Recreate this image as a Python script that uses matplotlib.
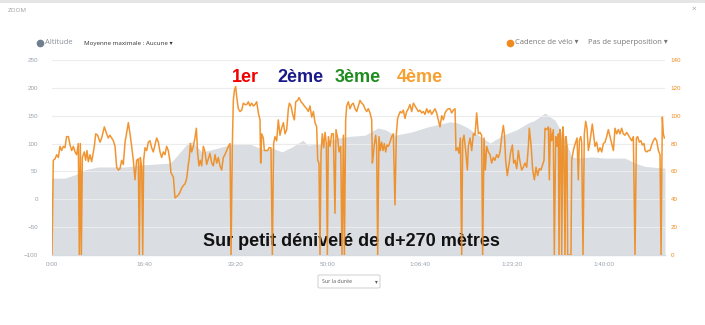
import numpy as np
import matplotlib
matplotlib.use("Agg")
import matplotlib.pyplot as plt
from matplotlib.lines import Line2D
from matplotlib.patches import FancyBboxPatch
from matplotlib.ticker import FixedLocator, FuncFormatter

plt.rcParams['font.family'] = ['Liberation Sans', 'DejaVu Sans']

# altitude profile (m), time in seconds
alt_t = [0, 141, 250, 359, 500, 794, 1011, 1283, 1337, 1478, 1522, 1630, 1739,
         1913, 2022, 2152, 2315, 2391, 2500, 2609, 2728, 2783, 2935, 3109, 3239,
         3402, 3543, 3620, 3728, 3913, 4087, 4326, 4413, 4522, 4598, 4761, 4902,
         5054, 5174, 5250, 5359, 5413, 5467, 5543, 5652, 5717, 5870, 6011, 6228,
         6337, 6446, 6641, 6663]
alt_v = [38, 38, 44, 53, 58, 58, 62, 65, 74, 101, 103, 85, 89,
         97, 100, 99, 88, 92, 85, 94, 106, 97, 101, 110, 113,
         115, 128, 125, 115, 121, 130, 139, 137, 128, 119, 101, 115,
         125, 137, 142, 155, 148, 142, 119, 76, 74, 76, 74, 74,
         65, 59, 56, 56]

# bike cadence (rpm), time in seconds
cad_t = [0, 14, 33, 51, 69, 87, 105, 123, 141, 159, 178, 196, 214, 232, 250, 268,
         286, 297, 308, 319, 330, 351, 366, 380, 395, 413, 431, 460, 475, 496,
         522, 540, 569, 594, 612, 630, 649, 667, 685, 703, 721, 739, 757, 775,
         794, 812, 830, 848, 866, 884, 902, 920, 938, 949, 960, 975, 986, 996,
         1011, 1029, 1047, 1065, 1083, 1101, 1120, 1138, 1156, 1174, 1192, 1210,
         1228, 1246, 1264, 1283, 1293, 1319, 1337, 1355, 1373, 1391, 1409, 1428,
         1446, 1464, 1482, 1493, 1504, 1518, 1536, 1554, 1569, 1583, 1598, 1612,
         1627, 1645, 1663, 1681, 1699, 1717, 1736, 1754, 1772, 1790, 1808, 1826,
         1844, 1862, 1880, 1899, 1917, 1935, 1946, 1960, 1971, 1982, 1996, 2007,
         2025, 2044, 2062, 2080, 2098, 2116, 2134, 2152, 2170, 2188, 2207, 2225,
         2243, 2261, 2268, 2279, 2297, 2308, 2322, 2344, 2359, 2380, 2395, 2409,
         2424, 2442, 2460, 2478, 2496, 2515, 2533, 2551, 2569, 2580, 2598, 2616,
         2634, 2649, 2670, 2685, 2707, 2721, 2743, 2768, 2786, 2804, 2823, 2841,
         2859, 2877, 2888, 2902, 2913, 2924, 2938, 2953, 2968, 2982, 2993, 3004,
         3022, 3040, 3058, 3076, 3087, 3105, 3120, 3138, 3152, 3167, 3178, 3192,
         3203, 3221, 3239, 3257, 3275, 3294, 3312, 3330, 3348, 3366, 3384, 3402,
         3420, 3438, 3457, 3475, 3482, 3493, 3504, 3518, 3529, 3540, 3554, 3569,
         3583, 3598, 3612, 3627, 3641, 3656, 3674, 3692, 3710, 3728, 3743, 3757,
         3772, 3786, 3801, 3819, 3837, 3855, 3873, 3891, 3910, 3928, 3946, 3964,
         3982, 4000, 4018, 4036, 4054, 4073, 4091, 4109, 4127, 4145, 4163, 4181,
         4199, 4217, 4236, 4254, 4272, 4290, 4308, 4326, 4344, 4362, 4381, 4391,
         4410, 4424, 4439, 4453, 4464, 4478, 4496, 4515, 4525, 4544, 4562, 4580,
         4598, 4616, 4634, 4652, 4670, 4681, 4696, 4710, 4725, 4743, 4761, 4779,
         4797, 4815, 4833, 4852, 4870, 4888, 4906, 4917, 4931, 4949, 4967, 4986,
         5004, 5018, 5033, 5051, 5069, 5087, 5105, 5123, 5141, 5160, 5178, 5188,
         5207, 5225, 5243, 5261, 5279, 5297, 5315, 5334, 5348, 5359, 5377, 5395,
         5406, 5417, 5431, 5449, 5460, 5475, 5489, 5504, 5511, 5522, 5533, 5540,
         5554, 5565, 5576, 5587, 5598, 5605, 5641, 5649, 5667, 5678, 5692, 5707,
         5721, 5732, 5747, 5757, 5772, 5786, 5801, 5815, 5830, 5844, 5859, 5873,
         5888, 5902, 5920, 5938, 5957, 5975, 5993, 6011, 6029, 6047, 6065, 6084,
         6102, 6120, 6138, 6156, 6174, 6192, 6210, 6228, 6247, 6265, 6283, 6301,
         6319, 6337, 6352, 6366, 6384, 6402, 6417, 6435, 6446, 6464, 6482, 6500,
         6518, 6536, 6554, 6573, 6591, 6609, 6620, 6634, 6645, 6656]
cad_v = [0, 68, 69, 72, 70, 78, 75, 78, 77, 85, 85, 79, 75, 78, 74, 72,
         80, 0, 80, 0, 70, 74, 68, 75, 67, 72, 67, 78, 87, 86,
         81, 84, 92, 87, 84, 86, 84, 82, 78, 63, 61, 62, 68, 65,
         81, 88, 95, 87, 78, 68, 54, 68, 69, 0, 70, 63, 0, 68,
         77, 75, 81, 82, 77, 74, 79, 84, 81, 74, 70, 74,
         72, 78, 75, 67, 59, 56, 41, 42, 43, 45, 48, 50,
         51, 55, 65, 70, 80, 74, 78, 84, 91, 73, 64, 68,
         64, 78, 74, 65, 69, 73, 66, 64, 72, 66, 70, 64,
         61, 70, 72, 75, 78, 80, 0, 78, 111, 118, 121, 114,
         105, 103, 104, 109, 108, 108, 110, 107, 109, 107, 108, 110,
         102, 97, 66, 87, 84, 75, 75, 75, 77, 77, 0, 80,
         85, 82, 97, 86, 91, 95, 87, 90, 105, 109, 107, 101,
         97, 110, 111, 113, 110, 109, 107, 105, 103, 107, 99, 103,
         95, 92, 68, 66, 0, 73, 87, 77, 88, 80, 0, 85,
         78, 87, 87, 30, 90, 84, 74, 78, 0, 86, 0, 97,
         107, 110, 105, 108, 109, 105, 103, 107, 111, 109, 108, 105,
         103, 105, 102, 97, 66, 72, 80, 86, 78, 0, 85, 75,
         81, 75, 80, 74, 79, 78, 81, 85, 87, 36, 87, 98,
         101, 103, 102, 104, 98, 103, 105, 108, 103, 109, 107, 105,
         103, 104, 102, 103, 101, 105, 102, 104, 101, 103, 105, 102,
         97, 92, 100, 97, 102, 104, 105, 105, 102, 104, 105, 75,
         77, 73, 84, 0, 82, 86, 75, 61, 78, 84, 75, 87,
         86, 102, 87, 88, 86, 0, 84, 61, 78, 74, 72, 66,
         70, 68, 72, 70, 74, 85, 93, 87, 68, 57, 65, 74,
         79, 66, 68, 62, 75, 67, 61, 63, 66, 63, 78, 91,
         79, 61, 54, 63, 57, 62, 61, 65, 68, 91, 90, 92,
         54, 91, 82, 90, 0, 85, 78, 87, 0, 90, 82, 0,
         92, 78, 0, 85, 78, 0, 0, 68, 75, 78, 81, 84,
         54, 82, 85, 81, 0, 87, 96, 91, 75, 80, 87, 94,
         86, 78, 81, 74, 77, 74, 80, 81, 85, 90, 85, 80,
         75, 91, 87, 90, 87, 91, 87, 86, 88, 86, 84, 82,
         85, 0, 84, 85, 81, 82, 79, 80, 75, 74, 75, 75,
         79, 82, 84, 82, 75, 72, 0, 99, 87, 84]

x_ticks = [0, 1000, 2000, 3000, 4000, 5000, 6000]
x_labels = ['0:00', '16:40', '33:20', '50:00', '1:06:40', '1:23:20', '1:40:00']
alt_ticks = [-100, -50, 0, 50, 100, 150, 200, 250]
cad_ticks = [0, 20, 40, 60, 80, 100, 120, 140]

rank_labels = ['1er', '2ème', '3ème', '4ème']
rank_colors = ['#f20000', '#1a1a8a', '#1f8c1f', '#f7a032']
rank_t = [2098, 2696, 3326, 4000]

orange = '#f08a1c'
grey_fill = '#dadee2'
tick_grey = '#9aa3ad'

fig = plt.figure(figsize=(7.05, 3.25), dpi=100)
ax = fig.add_axes([52 / 705, 70 / 325, 613 / 705, 195 / 325])
ax2 = ax.twinx()

ax.fill_between(alt_t, -100, alt_v, color=grey_fill, lw=0, zorder=1)
ax2.plot(cad_t, cad_v, color=orange, lw=1.1, alpha=0.9, zorder=3)

ax.set_xlim(0, 6663)
ax.set_ylim(-100, 250)
ax2.set_ylim(0, 140)

ax.xaxis.set_major_locator(FixedLocator(x_ticks))
ax.set_xticklabels(x_labels)
ax.set_yticks(alt_ticks)
ax2.set_yticks(cad_ticks)

ax.grid(axis='y', color='#ececec', lw=0.8)
ax.grid(axis='x', visible=False)
for a in (ax, ax2):
    for s in a.spines.values():
        s.set_visible(False)
ax.spines['bottom'].set_visible(True)
ax.spines['bottom'].set_color('#d6dbe0')
ax.spines['bottom'].set_linewidth(1.0)

ax.tick_params(axis='x', length=0, pad=5, labelsize=4.5, labelcolor=tick_grey)
ax.tick_params(axis='y', length=0, pad=10, labelsize=4.5, labelcolor=tick_grey)
ax2.tick_params(axis='y', length=0, pad=4, labelsize=4.5, labelcolor=orange)

for lab, col, t in zip(rank_labels, rank_colors, rank_t):
    ax.text(t, 219, lab, color=col, fontsize=13, fontweight='bold',
            ha='center', va='center', zorder=5)

ax.text(3250, -75, 'Sur petit dénivelé de d+270 mètres', color='#111111',
        fontsize=13, fontweight='bold', ha='center', va='center', zorder=5)

# header / legend row
ui = ['Open Sans', 'DejaVu Sans']
fig.add_artist(Line2D([0, 1], [1 - 1 / 325, 1 - 1 / 325], color='#e4e4e4', lw=2))
fig.text(8 / 705, 1 - 10 / 325, 'ZOOM', fontsize=4.5, color='#a0a0a0',
         family=ui, va='center')
fig.text(694 / 705, 1 - 9 / 325, '×', fontsize=6, color='#a0a0a0',
         family=ui, va='center', ha='center')

fig.add_artist(Line2D([40 / 705], [1 - 43 / 325], marker='o', ms=4.5,
                      color='#6f7f8f', lw=0))
fig.text(45 / 705, 1 - 43 / 325, 'Altitude', fontsize=5.5, color='#8a9098',
         family=ui, va='center')
fig.text(84 / 705, 1 - 43 / 325, 'Moyenne maximale : Aucune ▾', fontsize=4.5,
         color='#333333', family=ui, va='center')
fig.add_artist(Line2D([510 / 705], [1 - 43 / 325], marker='o', ms=4.5,
                      color=orange, lw=0))
fig.text(515 / 705, 1 - 43 / 325, 'Cadence de vélo ▾', fontsize=5.5,
         color='#777777', family=ui, va='center')
fig.text(588 / 705, 1 - 43 / 325, 'Pas de superposition ▾', fontsize=5.5,
         color='#777777', family=ui, va='center')

# dropdown below the chart
box = FancyBboxPatch((318 / 705, 1 - 288 / 325), 62 / 705, 13 / 325,
                     boxstyle='round,pad=0,rounding_size=0.003',
                     transform=fig.transFigure, facecolor='white',
                     edgecolor='#cfcfcf', lw=0.7)
fig.patches.append(box)
fig.text(322 / 705, 1 - 281.5 / 325, 'Sur la durée', fontsize=3.8,
         color='#555555', family=ui, va='center')
fig.text(375 / 705, 1 - 281.5 / 325, '▾', fontsize=4, color='#555555',
         family=ui, va='center')

fig.savefig('out.png', dpi=100)
